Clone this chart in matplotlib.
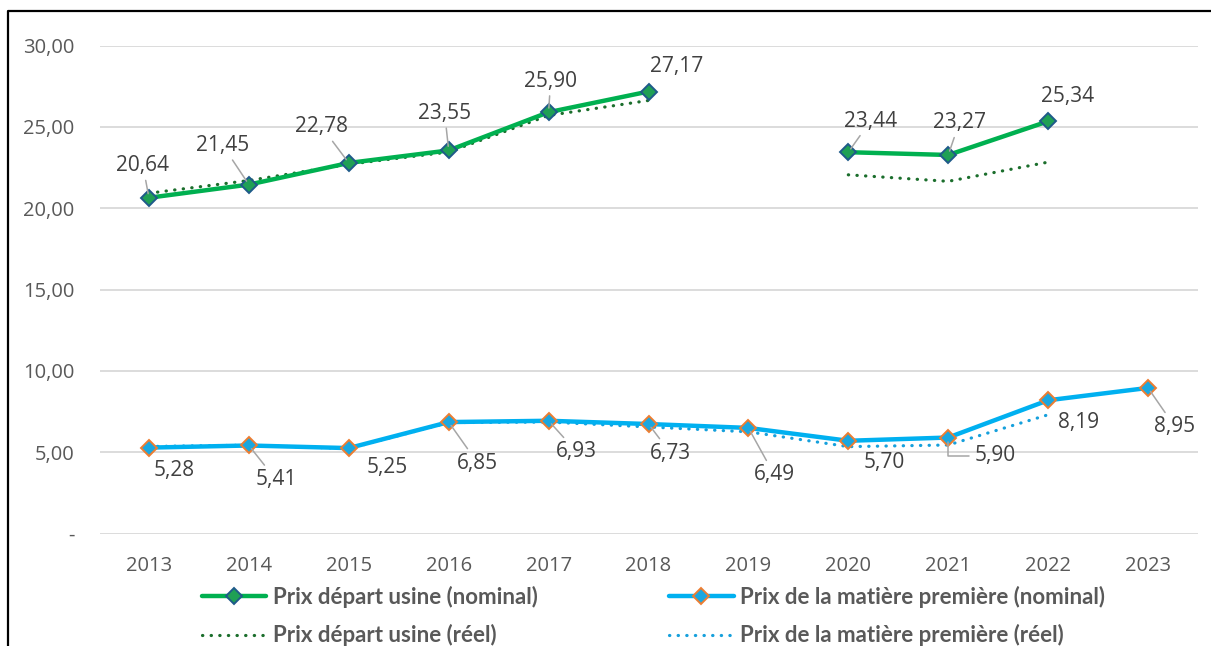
import matplotlib
matplotlib.use("Agg")
import matplotlib.pyplot as plt
import numpy as np
from matplotlib.lines import Line2D

plt.rcParams['font.family'] = ['Open Sans', 'DejaVu Sans']

years = [2013, 2014, 2015, 2016, 2017, 2018, 2019, 2020, 2021, 2022, 2023]
usine_nominal = [20.64, 21.45, 22.78, 23.55, 25.90, 27.17, np.nan, 23.44, 23.27, 25.34, np.nan]
usine_reel = [20.92, 21.70, 22.70, 23.45, 25.70, 26.62, np.nan, 22.05, 21.65, 22.83, np.nan]
matiere_nominal = [5.28, 5.41, 5.25, 6.85, 6.93, 6.73, 6.49, 5.70, 5.90, 8.19, 8.95]
matiere_reel = [5.35, 5.43, 5.22, 6.82, 6.85, 6.55, 6.25, 5.34, 5.44, 7.30, np.nan]

yticks = [0, 5, 10, 15, 20, 25, 30]
ytick_labels = ['-', '5,00', '10,00', '15,00', '20,00', '25,00', '30,00']

# label offsets in pixels (dx, dy) and leader type (0 none, 1 straight, 2 elbow)
usine_off = [(-6, 32, 1), (-26, 39, 1), (-27, 36, 1), (-4, 37, 1), (2, 31, 1), (28, 25, 0),
             None, (22, 31, 1), (11, 32, 1), (19, 25, 0), None]
matiere_off = [(25, -23, 0), (27, -34, 1), (38, -19, 0), (29, -41, 1), (28, -31, 1), (22, -29, 1),
               (26, -47, 1), (36, -22, 0), (47, -18, 2), (30, -22, 0), (27, -39, 1)]

GREEN = '#00b050'
GREEN_DARK = '#1b6e2c'
BLUE = '#00b0f0'
BLUE_DOT = '#16a0dc'
TXT = '#404040'
LEAD = '#a6a6a6'

fig = plt.figure(figsize=(12.11, 6.46), dpi=100)
ax = fig.add_axes([100 / 1211, 1 - 533.5 / 646, 1098 / 1211, (533.5 - 45.5) / 646])

ax.plot(years, usine_nominal, color=GREEN, lw=3.2, marker='D', ms=8.5,
        mfc='#1fa055', mec='#1f5a8a', mew=1.4, solid_capstyle='round',
        label='Prix départ usine (nominal)', zorder=4)
ax.plot(years, usine_reel, color=GREEN_DARK, lw=2.3, ls=(0, (0.1, 2.6)),
        dash_capstyle='round', label='Prix départ usine (réel)', zorder=3)
ax.plot(years, matiere_nominal, color=BLUE, lw=3.2, marker='D', ms=8.5,
        mfc='#1aa7e0', mec='#ed7d31', mew=1.4, solid_capstyle='round',
        label='Prix de la matière première (nominal)', zorder=4)
ax.plot(years, matiere_reel, color=BLUE_DOT, lw=2.3, ls=(0, (0.1, 2.6)),
        dash_capstyle='round', label='Prix de la matière première (réel)', zorder=3)


def fmt(v):
    return ('%.2f' % v).replace('.', ',')


def label(x, y, off):
    if off is None or np.isnan(y):
        return
    dx, dy, lead = off
    kw = {}
    if lead == 1:
        kw['arrowprops'] = dict(arrowstyle='-', color=LEAD, lw=1.1, shrinkA=1, shrinkB=3)
    elif lead == 2:
        kw['arrowprops'] = dict(arrowstyle='-', color=LEAD, lw=1.1, shrinkA=2, shrinkB=3,
                                relpos=(0, 0.5), connectionstyle='angle,angleA=0,angleB=90,rad=0')
    ax.annotate(fmt(y), (x, y), xytext=(dx, dy), textcoords='offset pixels',
                ha='center', va='center', fontsize=15, color=TXT, zorder=5, **kw)


for x, y, o in zip(years, usine_nominal, usine_off):
    label(x, y, o)
for x, y, o in zip(years, matiere_nominal, matiere_off):
    label(x, y, o)

ax.set_xlim(2012.51, 2023.5)
ax.set_ylim(0, 30)
ax.set_yticks(yticks)
ax.set_yticklabels(ytick_labels)
ax.set_xticks(years)
ax.set_xticklabels([str(y) for y in years])
ax.tick_params(length=0, labelsize=14.5, labelcolor='#595959')
ax.tick_params(axis='y', pad=18.5)
ax.tick_params(axis='x', pad=16)
ax.grid(axis='y', color='#d9d9d9', lw=1.3)
ax.set_axisbelow(True)
for s in ax.spines.values():
    s.set_visible(False)

leg = fig.legend(loc='upper left', bbox_to_anchor=(202 / 1211, 1 - 585.5 / 646), ncol=2,
                 frameon=False, borderpad=0, borderaxespad=0, handlelength=2.9,
                 columnspacing=5.9, labelspacing=0.75, handletextpad=0.3,
                 prop={'family': ['Lato', 'DejaVu Sans'], 'weight': 'bold', 'size': 16})
for t in leg.get_texts():
    t.set_color('#595959')

# frame of the picture
fig.add_artist(Line2D([7.5 / 1211, 7.5 / 1211, 1.0], [0.0, 1 - 10.5 / 646, 1 - 10.5 / 646],
                      transform=fig.transFigure, color='black', lw=1.6))

fig.savefig('out.png', dpi=100)
